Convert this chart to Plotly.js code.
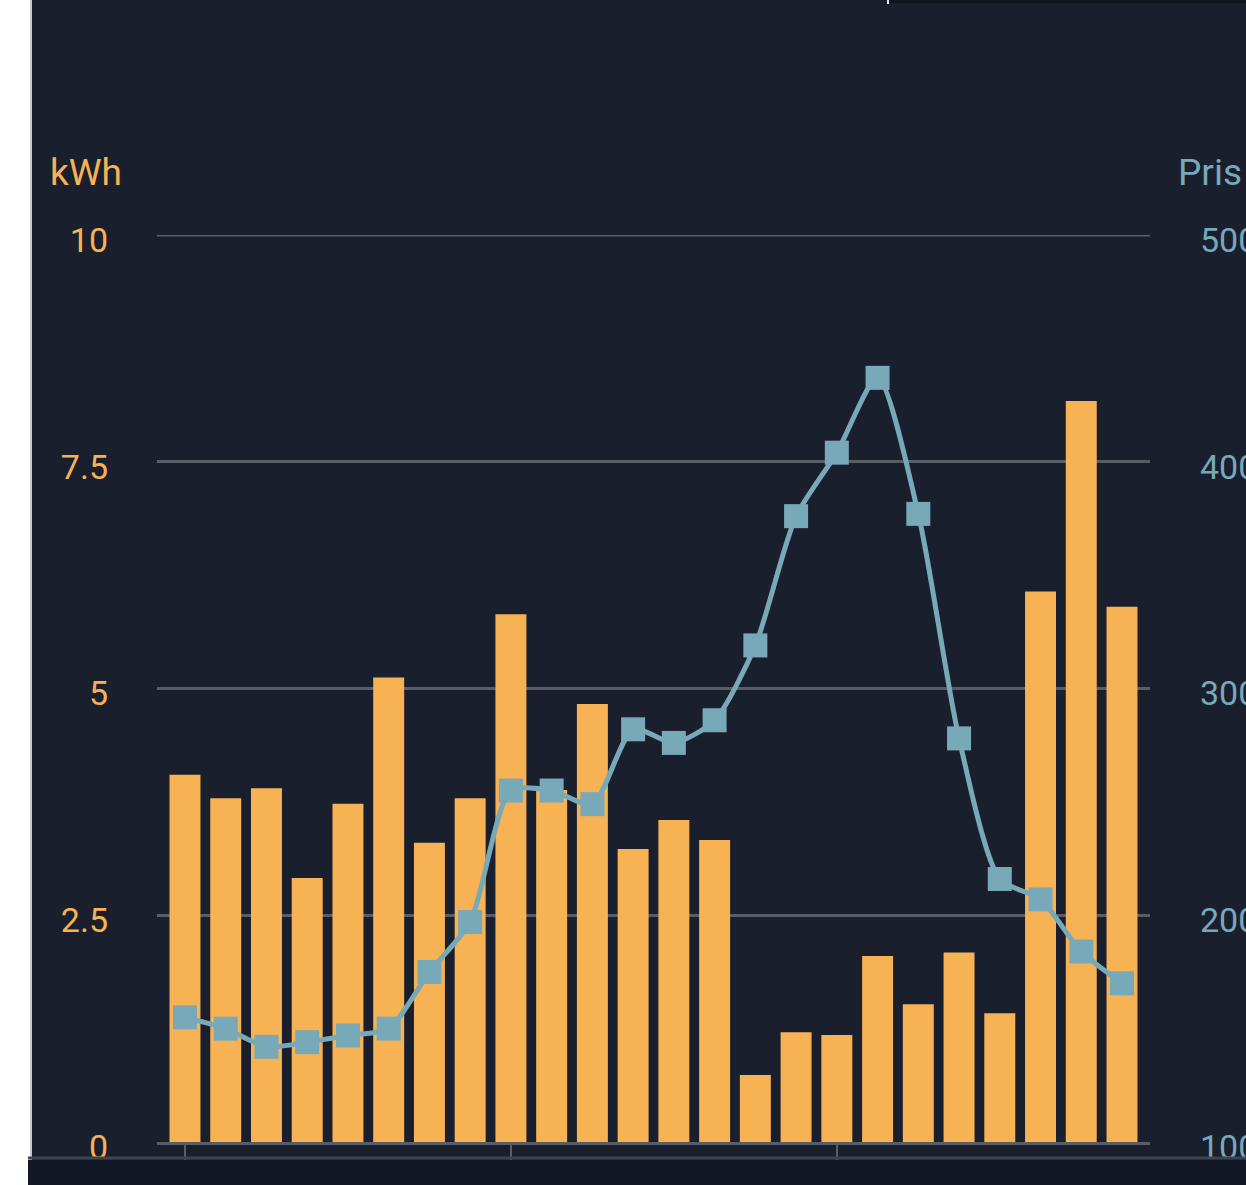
<!DOCTYPE html>
<html>
<head>
<meta charset="utf-8">
<script src="https://cdn.plot.ly/plotly-3.0.1.min.js"></script>
<style>
  html, body { margin: 0; padding: 0; background: #1a1f2e; }
  #chart { width: 1246px; height: 1185px; }
</style>
</head>
<body>
<div id="chart"></div>
<script>
// Hourly consumption (kWh, bars) and spot price (Pris, line)
const hours = [0, 1, 2, 3, 4, 5, 6, 7, 8, 9, 10, 11, 12, 13, 14, 15, 16, 17, 18, 19, 20, 21, 22, 23];
const kwh = [4.05, 3.79, 3.90, 2.91, 3.73, 5.12, 3.30, 3.79, 5.82, 3.88, 4.83, 3.23,
             3.55, 3.33, 0.74, 1.21, 1.18, 2.05, 1.52, 2.09, 1.42, 6.07, 8.17, 5.90];
const pris = [155, 150, 142, 144, 147, 150, 175, 197, 255, 255, 249, 282,
              276, 286, 319, 376, 404, 437, 377, 278, 216, 207, 184, 170];
const kwhTicks = [0, 2.5, 5, 7.5, 10];
const kwhTickText = ['0', '2.5', '5', '7.5', '10'];
const prisTicks = [100, 200, 300, 400, 500];
const xTicks = [0, 8, 16];

const orange = '#f7b254';
const teal = '#78a9b8';
const bg = '#1a1f2e';
const grid = '#585d68';

// pixel -> paper helpers (plot area 157..1150 x, 235..1142 y)
const px = x => (x - 157) / 993;
const py = y => (1142 - y) / 907;

const bars = {
    x: hours,
    y: kwh,
    type: 'bar',
    name: 'kWh',
    marker: { color: orange, line: { width: 0 } },
    yaxis: 'y'
};

const priceLine = {
    x: hours,
    y: pris,
    type: 'scatter',
    mode: 'lines+markers',
    name: 'Pris',
    line: { color: teal, width: 5, shape: 'spline', smoothing: 0.7 },
    marker: { color: teal, size: 24, symbol: 'square' },
    yaxis: 'y2'
};

const layout = {
    width: 1246,
    height: 1185,
    font: { family: 'Roboto, sans-serif', size: 34 },
    paper_bgcolor: bg,
    plot_bgcolor: bg,
    margin: { t: 235, b: 43, l: 157, r: 96 },
    showlegend: false,
    bargap: 0.24,
    xaxis: {
        range: [-0.687, 23.687],
        showgrid: false,
        zeroline: false,
        showline: true,
        linecolor: grid,
        linewidth: 3,
        ticks: 'outside',
        tickvals: xTicks,
        ticklen: 15,
        tickwidth: 2,
        tickcolor: grid,
        showticklabels: false
    },
    yaxis: {
        range: [0, 10],
        tickvals: kwhTicks,
        ticktext: kwhTickText,
        tickfont: { color: orange, size: 34 },
        gridcolor: grid,
        gridwidth: 3,
        zeroline: false,
        ticklabelstandoff: 48,
        ticklabelshift: 5
    },
    yaxis2: {
        range: [100, 500],
        overlaying: 'y',
        side: 'right',
        tickvals: prisTicks,
        tickfont: { color: teal, size: 34 },
        showgrid: false,
        zeroline: false,
        ticklabelstandoff: 49,
        ticklabelshift: 5
    },
    annotations: [
        { text: 'kWh', xref: 'paper', yref: 'paper', x: px(48), y: py(173),
          xanchor: 'left', yanchor: 'middle', showarrow: false,
          font: { color: orange, size: 37 } },
        { text: 'Pris', xref: 'paper', yref: 'paper', x: px(1176), y: py(173),
          xanchor: 'left', yanchor: 'middle', showarrow: false,
          font: { color: teal, size: 37 } }
    ],
    shapes: [
        // top gridline at 10 (sits on the plot edge)
        { type: 'line', xref: 'paper', yref: 'y', x0: 0, x1: 1, y0: 10, y1: 10,
          line: { color: grid, width: 3 }, layer: 'below' },
        // white strip on the left edge of the screenshot
        { type: 'rect', xref: 'paper', yref: 'paper', x0: px(0), x1: px(30), y0: py(1185), y1: py(0),
          fillcolor: '#ffffff', line: { width: 0 }, layer: 'above' },
        { type: 'line', xref: 'paper', yref: 'paper', x0: px(31), x1: px(31), y0: py(1172), y1: py(0),
          line: { color: '#c9c9cc', width: 2 }, layer: 'above' },
        // bottom band
        { type: 'rect', xref: 'paper', yref: 'paper', x0: px(28), x1: px(1246), y0: py(1185), y1: py(1160),
          fillcolor: '#121826', line: { width: 0 }, layer: 'above' },
        { type: 'line', xref: 'paper', yref: 'paper', x0: px(28), x1: px(1246), y0: py(1158), y1: py(1158),
          line: { color: '#3e4350', width: 3 }, layer: 'above' },
        // top band
        { type: 'rect', xref: 'paper', yref: 'paper', x0: px(887), x1: px(1246), y0: py(3), y1: py(0),
          fillcolor: '#10141f', line: { width: 0 }, layer: 'above' },
        { type: 'line', xref: 'paper', yref: 'paper', x0: px(888), x1: px(888), y0: py(4), y1: py(0),
          line: { color: '#e8e8e8', width: 2 }, layer: 'above' }
    ]
};

Plotly.newPlot('chart', [bars, priceLine], layout, { displayModeBar: false, staticPlot: true });
</script>
</body>
</html>
